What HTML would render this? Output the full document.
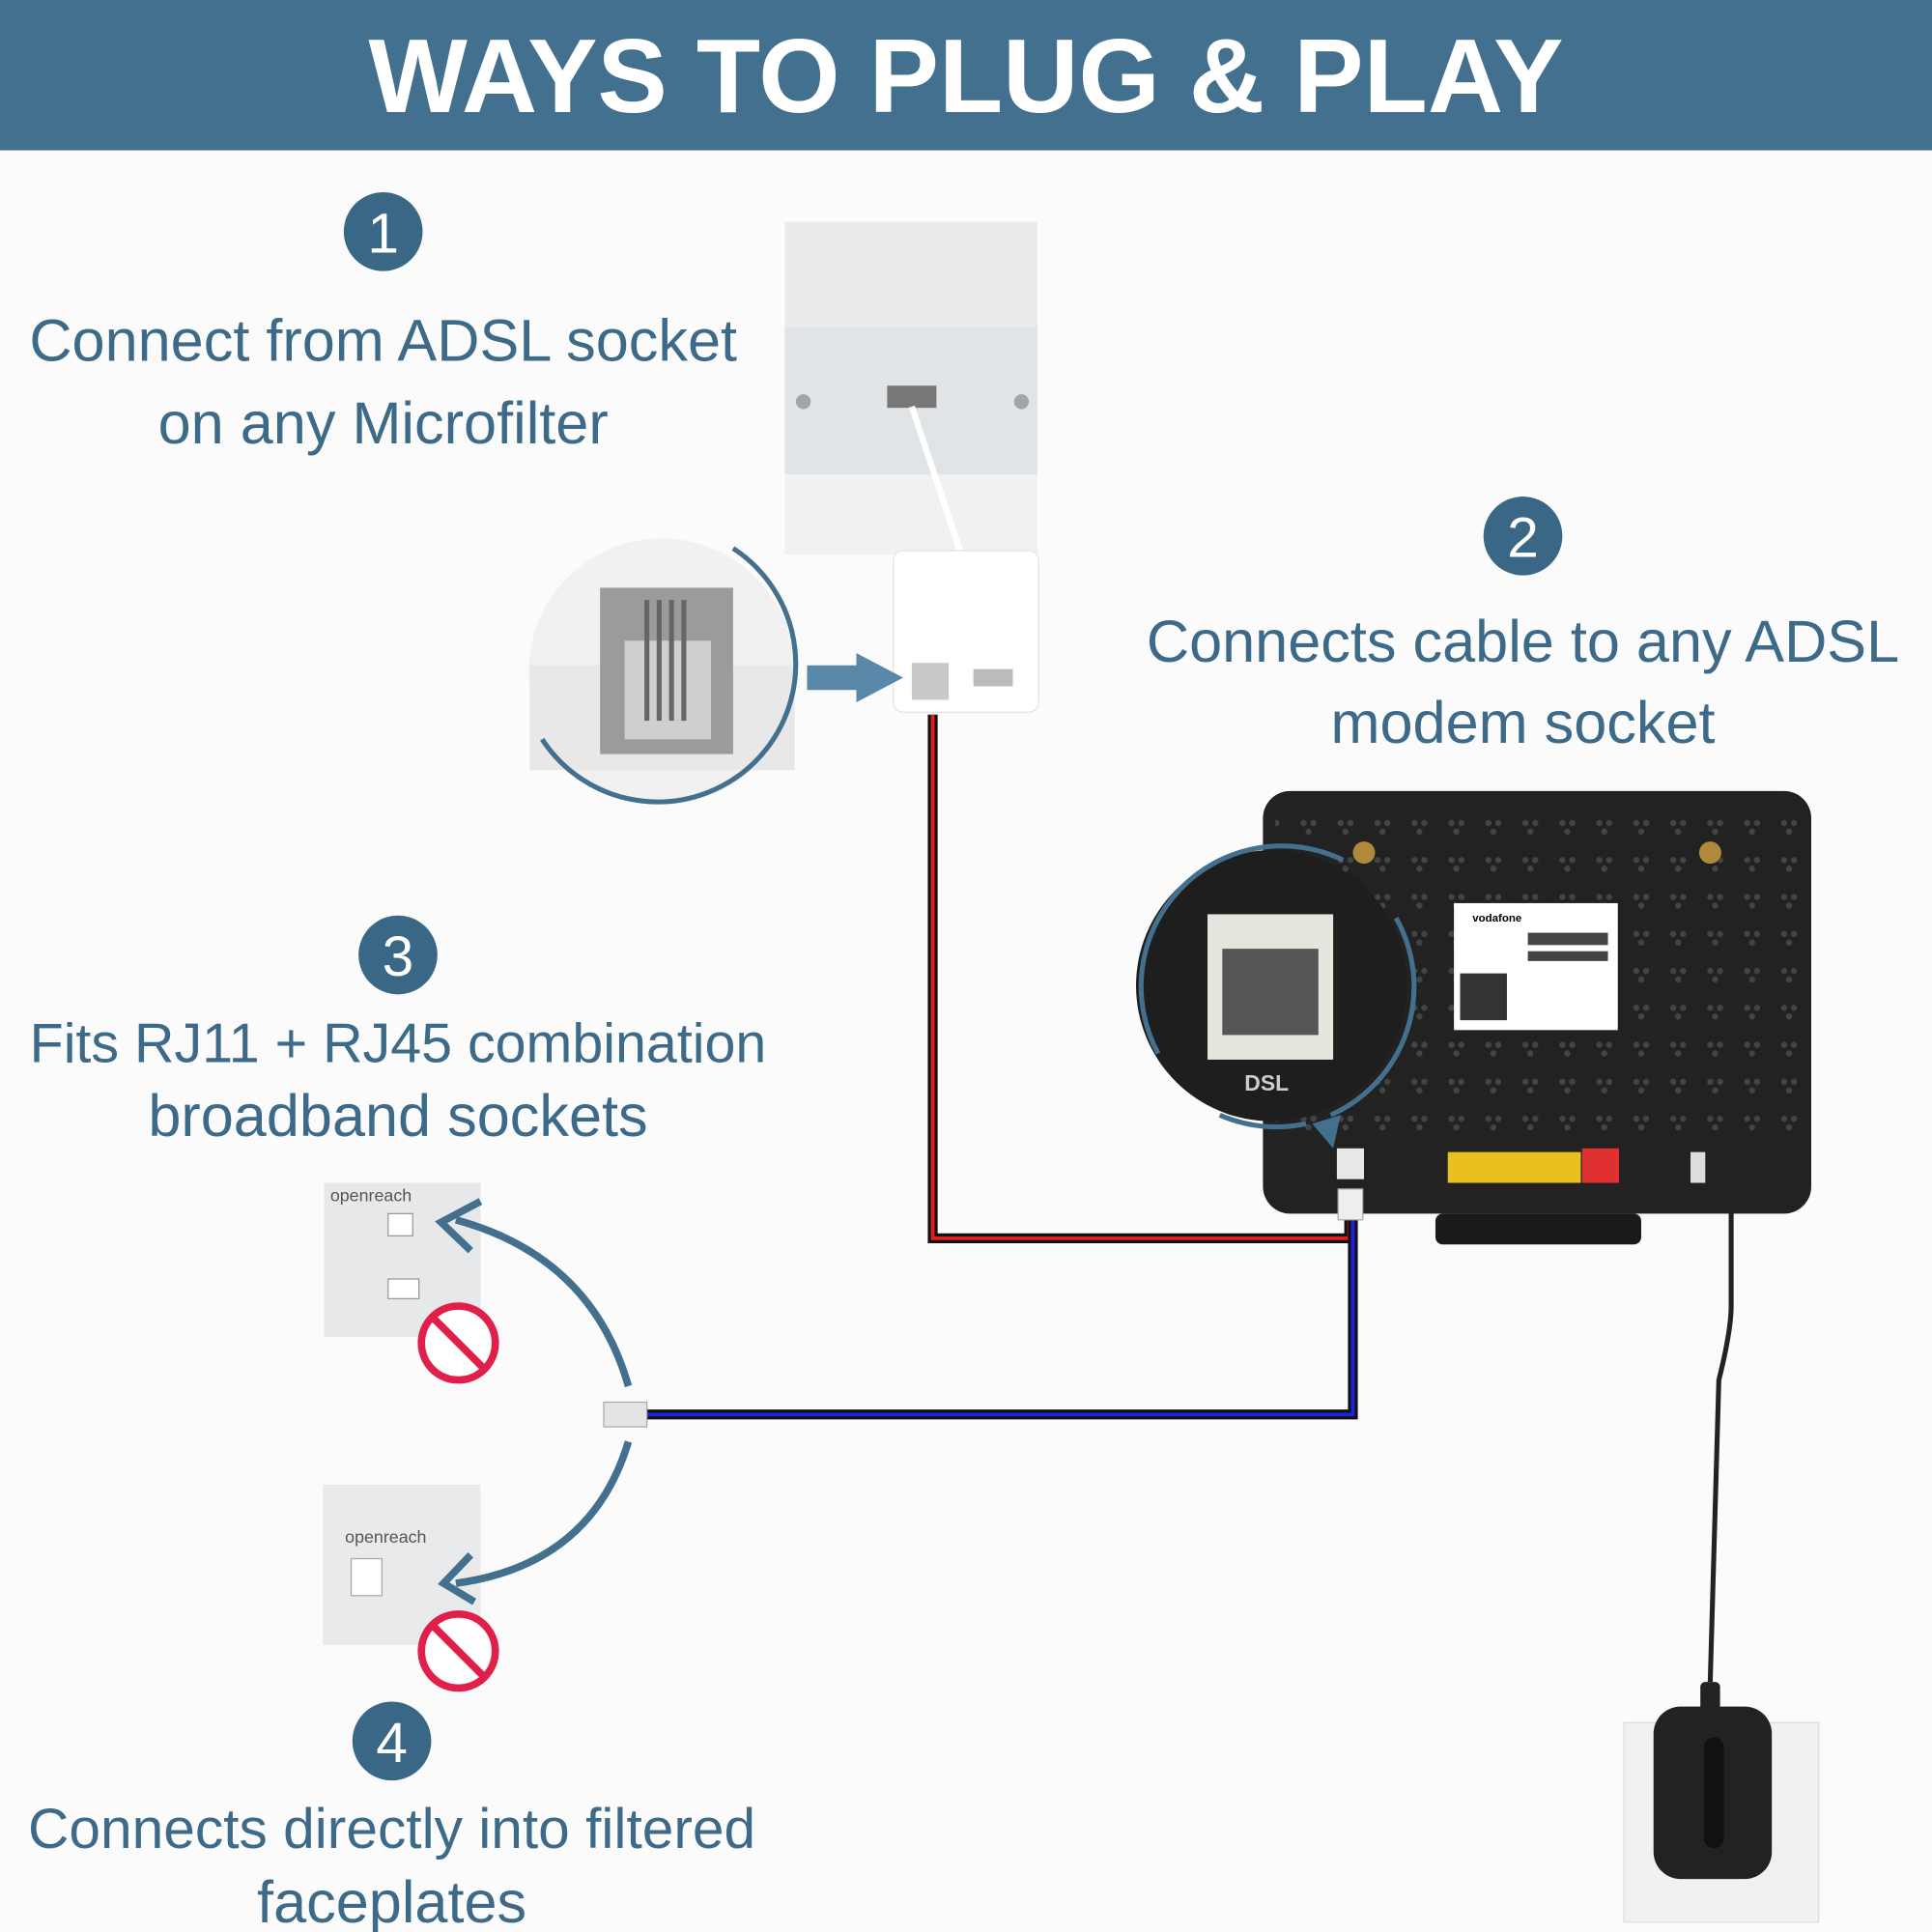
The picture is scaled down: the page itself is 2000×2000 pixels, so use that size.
<!DOCTYPE html>
<html><head><meta charset="utf-8"><style>
html,body{margin:0;padding:0;background:#fff}
svg{display:block}
text{font-family:"Liberation Sans",sans-serif}
</style></head><body>
<svg width="2000" height="2000" viewBox="0 0 1568 1568" xmlns="http://www.w3.org/2000/svg">
<rect width="1568" height="1568" fill="#fbfbfb"/>
<rect width="1568" height="122" fill="#44708f"/>
<text x="784" y="91" text-anchor="middle" font-size="85" font-weight="bold" fill="#fff">WAYS TO PLUG &amp; PLAY</text>

<g fill="#3b6786">
<circle cx="311" cy="188" r="32"/><circle cx="1236" cy="435" r="32"/>
<circle cx="323" cy="775" r="32"/><circle cx="318" cy="1413" r="32"/>
</g>
<g fill="#fff" font-size="46" text-anchor="middle">
<text x="311" y="205">1</text><text x="1236" y="452">2</text>
<text x="323" y="792">3</text><text x="318" y="1430">4</text>
</g>
<g fill="#3d6a89" font-size="48" text-anchor="middle">
<text x="311" y="293">Connect from ADSL socket</text>
<text x="311" y="360">on any Microfilter</text>
<text x="1236" y="537">Connects cable to any ADSL</text>
<text x="1236" y="603">modem socket</text>
<text x="323" y="862" font-size="45">Fits RJ11 + RJ45 combination</text>
<text x="323" y="922">broadband sockets</text>
<text x="318" y="1500" font-size="46">Connects directly into filtered</text>
<text x="318" y="1560">faceplates</text>
</g>

<rect x="637" y="180" width="205" height="270" fill="#e9ebec"/>
<rect x="637" y="265" width="205" height="120" fill="#e1e4e6"/>
<rect x="637" y="385" width="205" height="65" fill="#f0f1f2"/>
<circle cx="652" cy="326" r="6" fill="#9aa7b0"/><circle cx="829" cy="326" r="6" fill="#9aa7b0"/>
<rect x="720" y="313" width="40" height="18" fill="#777"/>
<path d="M740 330 Q760 390 780 450" stroke="#fff" stroke-width="5" fill="none"/>
<rect x="725" y="447" width="118" height="131" rx="8" fill="#fff" stroke="#e3e3e3"/>
<rect x="740" y="538" width="30" height="30" fill="#c9c9c9"/>
<rect x="790" y="543" width="32" height="14" fill="#bbb"/>
<circle cx="537" cy="545" r="108" fill="#f1f1f1"/>
<rect x="430" y="540" width="215" height="85" fill="#e8e8e8"/>
<rect x="487" y="477" width="108" height="135" fill="#9b9b9b"/>
<rect x="507" y="520" width="70" height="80" fill="#cfcfcf"/>
<g stroke="#666" stroke-width="4"><line x1="525" y1="487" x2="525" y2="585"/><line x1="535" y1="487" x2="535" y2="585"/><line x1="545" y1="487" x2="545" y2="585"/><line x1="555" y1="487" x2="555" y2="585"/></g>
<path d="M595 445 A112 112 0 1 1 440 600" stroke="#44708f" stroke-width="4" fill="none"/>
<path d="M655 540 L695 540 L695 530 L733 550 L695 570 L695 560 L655 560Z" fill="#5a88a8"/>

<rect x="1025" y="642" width="445" height="343" rx="22" fill="#222"/>
<rect x="1165" y="985" width="167" height="25" rx="6" fill="#1a1a1a"/>
<pattern id="d" width="30" height="30" patternUnits="userSpaceOnUse"><circle cx="8" cy="8" r="2.5" fill="#444"/><circle cx="16" cy="8" r="2.5" fill="#444"/><circle cx="12" cy="15" r="2.5" fill="#444"/></pattern>
<rect x="1035" y="650" width="425" height="270" fill="url(#d)"/>
<circle cx="1107" cy="692" r="9" fill="#b08a3a"/><circle cx="1388" cy="692" r="9" fill="#b08a3a"/>
<rect x="1180" y="733" width="133" height="103" fill="#fff"/>
<text x="1195" y="748" font-size="9" fill="#000" font-weight="bold">vodafone</text>
<rect x="1185" y="790" width="38" height="38" fill="#333"/>
<rect x="1240" y="757" width="65" height="10" fill="#444"/><rect x="1240" y="772" width="65" height="8" fill="#444"/>
<rect x="1175" y="935" width="108" height="25" fill="#e8c020"/>
<rect x="1284" y="932" width="30" height="28" fill="#e03030"/>
<rect x="1372" y="935" width="12" height="25" fill="#ddd"/>
<rect x="1085" y="932" width="22" height="25" fill="#e8e8e8"/>
<circle cx="1032" cy="800" r="110" fill="#1e1e1e"/>
<rect x="980" y="742" width="102" height="118" fill="#e2e6dc"/>
<rect x="992" y="770" width="78" height="70" fill="#555"/>
<text x="1028" y="885" text-anchor="middle" font-size="18" font-weight="bold" fill="#ccc">DSL</text>
<path d="M1133 745 A114 114 0 0 1 1080 905" stroke="#44708f" stroke-width="4" fill="none"/>
<path d="M940 855 A114 114 0 0 1 1090 698" stroke="#44708f" stroke-width="4" fill="none"/>
<path d="M990 905 A114 114 0 0 0 1060 912" stroke="#44708f" stroke-width="4" fill="none"/>
<path d="M1065 912 L1088 905 L1082 932Z" fill="#44708f"/>

<path d="M757 580 V1005 H1095 V985" stroke="#111" stroke-width="8" fill="none"/>
<path d="M757 580 V1005 H1095 V985" stroke="#e41e1e" stroke-width="3" fill="none"/>
<path d="M520 1148 H1098 V990" stroke="#111" stroke-width="8" fill="none"/>
<path d="M520 1148 H1098 V990" stroke="#2020e0" stroke-width="3" fill="none"/>
<rect x="490" y="1138" width="35" height="20" fill="#e4e4e4" stroke="#aaa"/>
<rect x="1086" y="965" width="20" height="25" fill="#eee" stroke="#aaa"/>

<rect x="263" y="960" width="127" height="125" fill="#e6e8ea"/>
<text x="268" y="975" font-size="14" fill="#555">openreach</text>
<rect x="315" y="985" width="20" height="18" fill="#fff" stroke="#999"/>
<rect x="315" y="1038" width="25" height="16" fill="#fff" stroke="#999"/>
<rect x="262" y="1205" width="128" height="130" fill="#e8eaec"/>
<text x="280" y="1252" font-size="14" fill="#555">openreach</text>
<rect x="285" y="1265" width="25" height="30" fill="#fff" stroke="#aaa"/>
<g fill="#fff" stroke="#e0204a" stroke-width="6">
<circle cx="372" cy="1090" r="30"/><circle cx="372" cy="1340" r="30"/>
</g>
<line x1="350" y1="1068" x2="394" y2="1112" stroke="#e0204a" stroke-width="6"/>
<line x1="350" y1="1318" x2="394" y2="1362" stroke="#e0204a" stroke-width="6"/>
<path d="M510 1125 Q480 1020 370 990" stroke="#44708f" stroke-width="6" fill="none"/>
<path d="M390 975 L358 992 L382 1015" stroke="#44708f" stroke-width="6" fill="none"/>
<path d="M510 1170 Q480 1270 370 1285" stroke="#44708f" stroke-width="6" fill="none"/>
<path d="M382 1262 L360 1285 L385 1300" stroke="#44708f" stroke-width="6" fill="none"/>

<path d="M1405 960 V1060 Q1405 1080 1395 1120 L1388 1365" stroke="#222" stroke-width="4" fill="none"/>
<rect x="1318" y="1398" width="158" height="162" fill="#f1f1f1" stroke="#ddd"/>
<rect x="1342" y="1385" width="96" height="140" rx="22" fill="#222"/>
<rect x="1380" y="1365" width="16" height="25" rx="4" fill="#222"/>
<rect x="1383" y="1410" width="16" height="90" rx="8" fill="#111"/>
</svg>
</body></html>
